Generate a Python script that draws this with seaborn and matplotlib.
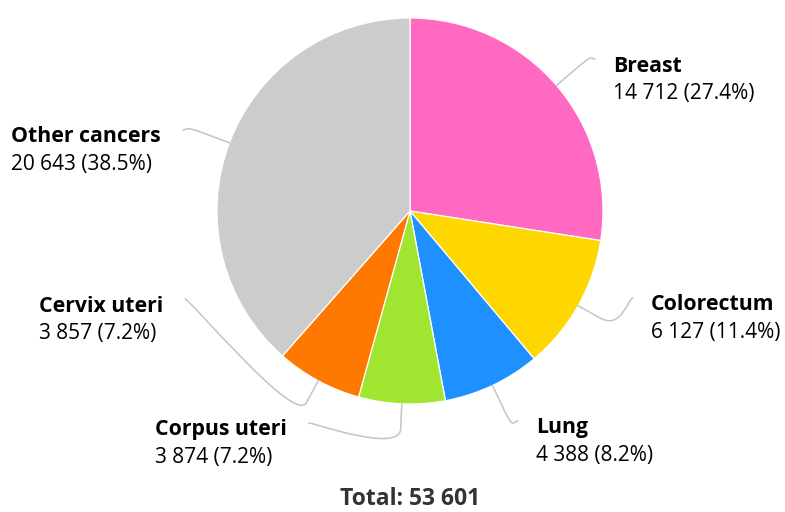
import numpy as np
import matplotlib
matplotlib.use("Agg")
import matplotlib.pyplot as plt
from matplotlib.path import Path
from matplotlib.patches import PathPatch
import seaborn as sns

# ---- data ----
categories = ["Breast", "Colorectum", "Lung", "Corpus uteri", "Cervix uteri", "Other cancers"]
values = [14712, 6127, 4388, 3874, 3857, 20643]
colors = ["#FF69C2", "#FFD700", "#1E90FF", "#A0E630", "#FF7800", "#CCCCCC"]
total_label = "Total: 53 601"

# ---- layout (pixel coordinates, y from top) ----
W, H = 785, 512
CX, CY, R = 410, 211, 193
label_anchor = [(595, 59), (633, 298), (518, 421), (309, 423), (185, 299), (183, 130)]
FS = 15
FS_BOLD = 15.3
FS_TOTAL = 16.5

sns.set_theme(style="white")
plt.rcParams["font.family"] = ["Open Sans", "Noto Sans", "DejaVu Sans"]

fig = plt.figure(figsize=(W / 100, H / 100), dpi=100)
ax = fig.add_axes([0, 0, 1, 1])

def P(x, y):
    return x, H - y

ax.pie(values, colors=colors, startangle=90, counterclock=False,
       center=P(CX, CY), radius=R,
       wedgeprops=dict(edgecolor="white", linewidth=0.9))
ax.set_xlim(0, W)
ax.set_ylim(0, H)
ax.set_aspect("auto")
ax.axis("off")

tot = sum(values)
cum = np.cumsum([0] + values)
renderer = fig.canvas.get_renderer()
for i, (cat, v) in enumerate(zip(categories, values)):
    mid = (cum[i] + v / 2) / tot * 360.0
    th = np.deg2rad(mid)
    d = np.array([np.sin(th), np.cos(th)])
    c = np.array(P(CX, CY), dtype=float)
    touch = c + R * d
    brk = c + (R + 25) * d
    ax_, ay_ = P(*label_anchor[i])
    right = ax_ > CX
    c1 = (ax_ + (-5 if right else 5), ay_)
    c2 = 2 * brk - touch
    path = Path([(ax_, ay_), c1, tuple(c2), tuple(brk), tuple(touch)],
                [Path.MOVETO, Path.CURVE4, Path.CURVE4, Path.CURVE4, Path.LINETO])
    ax.add_patch(PathPatch(path, fill=False, edgecolor="#C4C4C4", linewidth=1.1,
                           capstyle="round", joinstyle="round"))
    pct = v / tot * 100
    vtxt = f"{v:,}".replace(",", " ") + f" ({pct:.1f}%)"
    lx, ly = label_anchor[i]
    t1 = ax.text(0, H - (ly + 12.5), cat, fontsize=FS_BOLD, fontweight="bold",
                 color="black", ha="left", va="baseline")
    t2 = ax.text(0, H - (ly + 40), vtxt, fontsize=FS, color="black",
                 ha="left", va="baseline")
    if right:
        x0 = lx + 18
    else:
        w = max(t1.get_window_extent(renderer).width, t2.get_window_extent(renderer).width)
        x0 = lx - 22 - w
    t1.set_x(x0)
    t2.set_x(x0)

ax.text(410, H - 505, total_label, fontsize=FS_TOTAL, fontweight="bold", color="#333333",
        ha="center", va="baseline")

fig.savefig("out.png", dpi=100)
